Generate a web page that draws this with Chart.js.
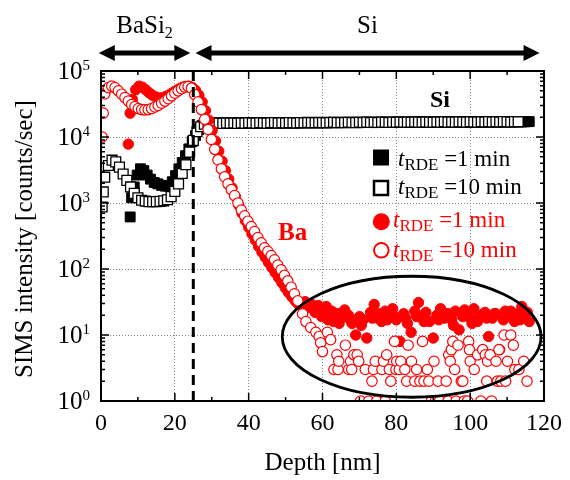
<!DOCTYPE html>
<html>
<head>
<meta charset="utf-8">
<script src="https://cdn.jsdelivr.net/npm/chart.js@4.4.1/dist/chart.umd.min.js"></script>
<style>
  html, body { margin: 0; padding: 0; background: #fff; }
  #wrap { width: 570px; height: 480px; position: relative; }
</style>
</head>
<body>
<div id="wrap"><canvas id="simsChart"></canvas></div>
<script>
// axis ticks
const xTicks = [0, 20, 40, 60, 80, 100, 120];
const yExponents = [0, 1, 2, 3, 4, 5];
const interfaceDepth = 25;

// Si signal, t_RDE = 1 min (filled squares)
const si1Depth = [7.9, 8.3, 9.0, 9.8, 10.7, 11.6, 12.5, 13.4, 14.4, 15.4, 16.4, 17.4, 18.4, 19.3, 20.2,
  21.1, 22.0, 22.9, 23.8, 24.7, 25.6, 26.5, 27.4, 28.3,
  29, 30, 31, 32, 33, 34, 35, 36, 37, 38, 39, 40, 41, 42, 43, 44, 45, 46, 47, 48, 49, 50,
  51, 52, 53, 54, 55, 56, 57, 58, 59, 60, 61, 62, 63, 64, 65, 66, 67, 68, 69, 70,
  71, 72, 73, 74, 75, 76, 77, 78, 79, 80, 81, 82, 83, 84, 85, 86, 87, 88, 89, 90,
  91, 92, 93, 94, 95, 96, 97, 98, 99, 100, 101, 102, 103, 104, 105, 106, 107, 108, 109, 110,
  111, 112, 113, 114, 115, 116];
const si1Counts = [615, 1200, 1750, 2650, 3300, 3100, 2650, 2300, 2050, 1950, 1850, 1800, 1800, 2100, 2600,
  3300, 4100, 5200, 6600, 8500, 10500, 13000, 15000, 16000,
  15800, 16100, 16200, 16300, 16200, 16300, 16200, 16400, 16300, 16200, 16400, 16300, 16200, 16400, 16300, 16500, 16300, 16400, 16500, 16300, 16400, 16500,
  16400, 16300, 16500, 16400, 16600, 16400, 16500, 16600, 16400, 16500, 16600, 16500, 16400, 16600, 16500, 16700, 16500, 16600, 16700, 16500,
  16600, 16700, 16600, 16500, 16700, 16600, 16800, 16600, 16700, 16800, 16600, 16700, 16800, 16700, 16600, 16800, 16700, 16900, 16700, 16800,
  16900, 16700, 16800, 16900, 16800, 16700, 16900, 16800, 17000, 16800, 16900, 17000, 16800, 16900, 17000, 16900, 16800, 17000, 16900, 17100,
  16900, 17000, 17100, 16900, 17000, 17100];

// Si signal, t_RDE = 10 min (open squares)
const si10Depth = [0.3, 0.6, 1.0, 2.0, 3.0, 4.0, 5.0, 6.0, 7.0, 8.0, 9.0, 10.0, 11.0, 12.0, 13.0, 14.0, 15.0,
  16.0, 17.0, 18.0, 19.0, 20.0, 21.0, 22.0, 23.0, 24.0, 25.0, 26.0, 27.0, 28.0,
  29, 30, 31, 32, 33, 34, 35, 36, 37, 38, 39, 40, 41, 42, 43, 44, 45, 46, 47, 48, 49, 50,
  51, 52, 53, 54, 55, 56, 57, 58, 59, 60, 61, 62, 63, 64, 65, 66, 67, 68, 69, 70,
  71, 72, 73, 74, 75, 76, 77, 78, 79, 80, 81, 82, 83, 84, 85, 86, 87, 88, 89, 90,
  91, 92, 93, 94, 95, 96, 97, 98, 99, 100, 101, 102, 103, 104, 105, 106, 107, 108, 109, 110,
  111, 112, 113];
const si10Counts = [870, 1470, 2460, 3700, 4450, 4200, 3500, 2750, 2200, 1750, 1400, 1200, 1100, 1070, 1050, 1050, 1050,
  1060, 1080, 1120, 1250, 1500, 1950, 2800, 3800, 5900, 8900, 12000, 14300, 15600,
  16000, 16100, 16300, 16200, 16100, 16300, 16200, 16300, 16100, 16300, 16200, 16400, 16300, 16200, 16400, 16300, 16200, 16400, 16500, 16300, 16400, 16300,
  16500, 16400, 16300, 16500, 16400, 16600, 16500, 16400, 16600, 16500, 16400, 16600, 16700, 16500, 16600, 16500, 16700, 16600, 16500, 16700,
  16600, 16800, 16600, 16700, 16600, 16800, 16700, 16600, 16800, 16700, 16900, 16700, 16800, 16700, 16900, 16800, 16700, 16900, 16800, 16700,
  16900, 16800, 17000, 16800, 16900, 16800, 17000, 16900, 16800, 17000, 16900, 16800, 17000, 16900, 17100, 16900, 17000, 16900, 17100, 17000,
  16900, 17100, 17000];

// Ba signal, t_RDE = 1 min (filled circles)
const ba1Depth = [7.4, 7.9, 8.5, 9.4, 10.3, 11.2, 12.1, 13.0, 13.9, 14.8, 15.7, 16.6, 17.5, 18.4, 19.3, 20.2,
  21.1, 22.0, 22.9, 23.8, 24.7, 25.6, 26.5, 27.4, 28.3, 29.2, 30.1, 31.0, 31.9, 32.8, 33.7, 34.6, 35.5,
  36.4, 37.3, 38.2, 39.1, 40.0, 40.9, 41.8, 42.7, 43.6, 44.5, 45.4, 46.3, 47.2, 48.1, 49.0, 49.9, 50.8,
  51.7, 52.6, 53.5, 54.4, 55.3, 56.2, 57.1, 58.0, 58.9, 59.8, 60.7,
  61, 61.5, 62, 62.5, 63, 63.5, 64, 64.5, 65, 65.5, 66, 67, 67.5, 68, 69, 70, 70.5, 71, 72, 73, 73.5, 74, 75, 75.5,
  76, 77, 77.5, 78, 79, 79.5, 80, 81, 82, 82.5, 83, 84, 85, 85.5, 86, 87, 87.5, 88, 89, 90, 91, 91.5,
  92, 93, 93.5, 94, 95, 95.5, 96, 97, 98, 98.5, 99, 100, 100.5, 101, 102, 102.5, 103, 104, 104.5, 105,
  106, 106.5, 107, 108, 109, 109.5, 110, 111, 111.5, 112, 113, 113.5, 114, 115, 115.5, 116];
const ba1Counts = [7800, 23000, 37000, 52000, 59000, 57000, 52000, 47000, 43000, 40500, 39000, 39500, 41000, 43500, 46500, 50000,
  53500, 56500, 58500, 59000, 56500, 51000, 43000, 34000, 25000, 18000, 12500, 8700, 6100, 4300, 3100, 2300, 1700,
  1250, 930, 700, 540, 430, 340, 275, 220, 180, 150, 125, 105, 88, 74, 62, 52, 44,
  38, 33, 29, 27, 32, 26, 29, 22, 28, 19, 24,
  27, 17, 20, 23, 16, 19, 21, 15, 18, 22, 24, 20, 17, 15, 10, 19, 14, 17, 9, 22, 18, 29, 18, 21,
  16, 23, 17, 20, 25, 19, 17, 8, 21, 18, 15, 11, 23, 19, 31, 19, 16, 22, 16, 9, 20, 17,
  25, 18, 21, 21, 17, 14, 23, 12, 19, 24, 22, 18, 15, 25, 16, 19, 20, 22, 18, 9.5,
  18, 21, 21, 6, 17, 23, 19, 23, 18, 16, 21, 17, 27, 18, 22, 16];

// Ba signal, t_RDE = 10 min (open circles); zero counts are not shown
const ba10Depth = [0.3, 0.6, 1.0, 2.0, 2.9, 3.8, 4.7, 5.6, 6.5, 7.4, 8.3, 9.2, 10.1, 11.0, 11.9, 12.8, 13.7,
  14.6, 15.5, 16.4, 17.3, 18.2, 19.1, 20.0, 20.9, 21.8, 22.7, 23.6, 24.5, 25.4, 26.3, 27.2, 28.1, 29.0,
  29.9, 30.8, 31.7, 32.6, 33.5, 34.4, 35.3, 36.2, 37.1, 38.0, 38.9, 39.8, 40.7, 41.6, 42.5, 43.4, 44.3,
  45.2, 46.1, 47.0, 47.9, 48.8, 49.7, 50.6, 51.5, 52.4, 53.3, 54.6, 55.5, 56.8, 58.2, 59.1, 59.5, 60.0,
  61.3, 62.2, 63.1, 63.9, 64.2, 64.4, 66.2, 67.1, 67.6, 67.9, 68.5, 69.4, 69.8, 70.3, 71.6, 72.5, 73.4,
  73.8, 74.3, 74.7, 76.1, 76.5, 77.0, 77.4, 78.1, 78.5, 79.5, 79.9, 80.1, 80.8, 81.2, 82.3, 82.8, 83.2,
  84.1, 85.0, 85.5, 86.4, 87.1, 87.5, 88.4, 88.8, 89.5, 90.2, 90.6, 91.3, 91.7, 93.5, 94.0, 94.2, 94.6,
  94.9, 95.3, 95.8, 96.2, 96.7, 97.6, 98.0, 98.4, 99.3, 99.6, 99.8, 100.0, 101.1, 102.0, 102.9, 103.4,
  104.1, 104.5, 104.7, 105.4, 105.8, 107.0, 107.4, 107.8, 108.3, 109.2, 109.6, 110.1, 111.0, 111.7, 112.1,
  113.2, 114.5, 115.4];
const ba10Counts = [10000, 23000, 45000, 56000, 59000, 56000, 50000, 44500, 39500, 35000, 31000, 29000, 27000, 26000, 25800, 26000, 27000,
  28500, 30000, 32500, 35000, 38000, 42000, 46000, 50000, 54000, 57000, 58000, 55000, 44000, 34000, 26000, 18500, 13000,
  9200, 6500, 4500, 3300, 2500, 1950, 1600, 1300, 1000, 780, 640, 530, 440, 370, 300, 250, 210,
  185, 160, 138, 115, 97, 80, 66, 53, 42, 33, 21, 16, 13, 11, 9.5, 7.6, 5.6,
  11, 8.5, 3, 5, 3, 4, 7, 3, 4, 3, 5, 5, 4, 1, 3, 1, 2,
  3, 4, 1, 3, 4, 1, 5, 3, 2, 8, 3, 4, 3, 4, 3, 2, 7,
  4, 2, 3, 2, 8, 2, 3, 2, 1, 4, 1, 2, 1, 2, 1, 5, 4,
  6, 8, 3, 1, 7, 2, 2, 1, 1, 8, 6, 4, 3, 5, 1, 6,
  5, 2, 4, 5, 1, 4, 2, 6, 2, 10, 2, 4, 10, 7, 3,
  3, 4, 2];

// legend text
const legendTimes = ['1 min', '10 min', '1 min', '10 min'];

const serif = "'Liberation Serif', 'Times New Roman', serif";
const RED = '#ff0000';

const toPoints = (d, v) => d.map((x, i) => ({ x: x, y: v[i] }));

function drawArrow(ctx, x1, x2, yc) {
  const head = 16, half = 8;
  ctx.lineWidth = 5;
  ctx.beginPath();
  ctx.moveTo(x1 + head - 2, yc);
  ctx.lineTo(x2 - head + 2, yc);
  ctx.stroke();
  ctx.beginPath();
  ctx.moveTo(x1, yc); ctx.lineTo(x1 + head, yc - half); ctx.lineTo(x1 + head, yc + half); ctx.closePath();
  ctx.moveTo(x2, yc); ctx.lineTo(x2 - head, yc - half); ctx.lineTo(x2 - head, yc + half); ctx.closePath();
  ctx.fill();
}

function rdeLabel(ctx, x, yb, time, color) {
  ctx.fillStyle = color;
  ctx.textAlign = 'left';
  ctx.textBaseline = 'alphabetic';
  ctx.font = 'italic 23px ' + serif;
  ctx.fillText('t', x, yb);
  let cx = x + ctx.measureText('t').width;
  ctx.font = '17px ' + serif;
  ctx.fillText('RDE', cx, yb + 4);
  cx += ctx.measureText('RDE').width;
  ctx.font = '23px ' + serif;
  ctx.fillText(' =' + time, cx, yb);
}

const decor = {
  id: 'decor',
  afterDatasetsDraw(chart) {
    const { ctx, chartArea: a, scales: { x, y } } = chart;
    ctx.save();

    // BaSi2 / Si interface
    const xi = x.getPixelForValue(interfaceDepth);
    ctx.strokeStyle = '#000';
    ctx.lineWidth = 3;
    ctx.setLineDash([10, 6]);
    ctx.beginPath();
    ctx.moveTo(xi, a.top);
    ctx.lineTo(xi, a.bottom);
    ctx.stroke();
    ctx.setLineDash([]);

    // ellipse round the noise floor
    const eL = x.getPixelForValue(49.1), eR = x.getPixelForValue(119.2);
    const eT = y.getPixelForValue(77.6), eB = y.getPixelForValue(1.14);
    ctx.lineWidth = 2.8;
    ctx.beginPath();
    ctx.ellipse((eL + eR) / 2, (eT + eB) / 2, (eR - eL) / 2, (eB - eT) / 2, 0, 0, Math.PI * 2);
    ctx.stroke();

    // frame
    ctx.lineWidth = 2;
    ctx.strokeRect(a.left, a.top, a.right - a.left, a.bottom - a.top);

    // inward ticks
    ctx.lineWidth = 1.5;
    ctx.beginPath();
    for (let d = 0; d <= 120; d += 10) {
      const px = x.getPixelForValue(d);
      const len = d % 20 === 0 ? 8 : 4;
      ctx.moveTo(px, a.bottom); ctx.lineTo(px, a.bottom - len);
      ctx.moveTo(px, a.top); ctx.lineTo(px, a.top + len);
    }
    for (let e = 0; e <= 5; e++) {
      for (let m = 1; m <= 9; m++) {
        if (e === 5 && m > 1) break;
        const py = y.getPixelForValue(m * Math.pow(10, e));
        const len = m === 1 ? 8 : 4;
        ctx.moveTo(a.left, py); ctx.lineTo(a.left + len, py);
        ctx.moveTo(a.right, py); ctx.lineTo(a.right - len, py);
      }
    }
    ctx.stroke();

    // y tick labels 10^n
    ctx.fillStyle = '#000';
    ctx.textAlign = 'right';
    ctx.textBaseline = 'alphabetic';
    yExponents.forEach(e => {
      const py = y.getPixelForValue(Math.pow(10, e));
      ctx.font = '15px ' + serif;
      const ew = ctx.measureText(String(e)).width;
      ctx.fillText(String(e), a.left - 11, py - 1);
      ctx.font = '25px ' + serif;
      ctx.fillText('10', a.left - 11 - ew, py + 8);
    });

    // axis titles
    ctx.textAlign = 'center';
    ctx.font = '25px ' + serif;
    ctx.fillText('Depth [nm]', (a.left + a.right) / 2, 470);
    ctx.save();
    ctx.translate(32, (a.top + a.bottom) / 2 + 3);
    ctx.rotate(-Math.PI / 2);
    ctx.fillText('SIMS intensity [counts/sec]', 0, 0);
    ctx.restore();

    // layer arrows
    const ay = 53;
    ctx.fillStyle = '#000';
    ctx.strokeStyle = '#000';
    drawArrow(ctx, x.getPixelForValue(-0.6), x.getPixelForValue(24.2), ay);
    drawArrow(ctx, x.getPixelForValue(25.6), x.getPixelForValue(118.8), ay);
    ctx.textAlign = 'left';
    ctx.font = '25px ' + serif;
    const bw = ctx.measureText('BaSi').width;
    ctx.font = '16px ' + serif;
    const sw = ctx.measureText('2').width;
    const bx = (x.getPixelForValue(-0.6) + x.getPixelForValue(24.2)) / 2 - (bw + sw) / 2;
    ctx.font = '25px ' + serif;
    ctx.fillText('BaSi', bx, 33);
    ctx.font = '16px ' + serif;
    ctx.fillText('2', bx + bw, 38);
    ctx.textAlign = 'center';
    ctx.font = '25px ' + serif;
    ctx.fillText('Si', (x.getPixelForValue(25.6) + x.getPixelForValue(118.8)) / 2, 33);

    // element labels
    ctx.textAlign = 'left';
    ctx.font = 'bold 24px ' + serif;
    ctx.fillStyle = '#000';
    ctx.fillText('Si', 430, 107);
    ctx.fillStyle = RED;
    ctx.font = 'bold 25px ' + serif;
    ctx.fillText('Ba', 278, 240);

    // legend
    ctx.fillStyle = '#000';
    ctx.fillRect(373, 149.5, 16, 16);
    ctx.lineWidth = 2.5;
    ctx.strokeStyle = '#000';
    ctx.fillStyle = '#fff';
    ctx.fillRect(374, 181, 14, 14);
    ctx.strokeRect(374, 181, 14, 14);
    ctx.fillStyle = RED;
    ctx.beginPath(); ctx.arc(381.3, 221.7, 8.5, 0, Math.PI * 2); ctx.fill();
    ctx.strokeStyle = RED; ctx.lineWidth = 2;
    ctx.beginPath(); ctx.arc(381.3, 250.3, 7.3, 0, Math.PI * 2); ctx.stroke();
    rdeLabel(ctx, 398, 166, legendTimes[0], '#000');
    rdeLabel(ctx, 398, 194, legendTimes[1], '#000');
    rdeLabel(ctx, 393, 227, legendTimes[2], RED);
    rdeLabel(ctx, 393, 257, legendTimes[3], RED);

    ctx.restore();
  }
};

new Chart(document.getElementById('simsChart'), {
  type: 'scatter',
  data: {
    datasets: [
      {
        label: 'Ba, tRDE = 10 min',
        data: toPoints(ba10Depth, ba10Counts),
        pointStyle: 'circle',
        pointRadius: 5.2,
        pointBorderWidth: 1.2,
        pointBorderColor: RED,
        pointBackgroundColor: '#fff'
      },
      {
        label: 'Ba, tRDE = 1 min',
        data: toPoints(ba1Depth, ba1Counts),
        pointStyle: 'circle',
        pointRadius: 5.2,
        pointBorderWidth: 1,
        pointBorderColor: RED,
        pointBackgroundColor: RED
      },
      {
        label: 'Si, tRDE = 10 min',
        data: toPoints(si10Depth, si10Counts),
        pointStyle: 'rect',
        pointRadius: 7,
        pointBorderWidth: 1.3,
        pointBorderColor: '#000',
        pointBackgroundColor: '#fff'
      },
      {
        label: 'Si, tRDE = 1 min',
        data: toPoints(si1Depth, si1Counts),
        pointStyle: 'rect',
        pointRadius: 7,
        pointBorderWidth: 1,
        pointBorderColor: '#000',
        pointBackgroundColor: '#000'
      }
    ]
  },
  options: {
    responsive: true,
    maintainAspectRatio: false,
    animation: false,
    devicePixelRatio: 1,
    layout: { padding: { top: 71, right: 24, left: 0, bottom: 0 } },
    plugins: {
      legend: { display: false },
      tooltip: { enabled: false }
    },
    scales: {
      x: {
        type: 'linear',
        min: 0,
        max: 120,
        afterBuildTicks: s => { s.ticks = xTicks.map(v => ({ value: v })); },
        afterFit: s => { s.height = 79; },
        ticks: {
          color: '#000',
          font: { family: serif, size: 24 },
          padding: 8,
          maxRotation: 0
        },
        grid: { color: '#8a8a8a', lineWidth: 1, drawTicks: false },
        border: { display: false, dash: [1, 2] }
      },
      y: {
        type: 'logarithmic',
        min: 1,
        max: 100000,
        afterBuildTicks: s => { s.ticks = yExponents.map(e => ({ value: Math.pow(10, e) })); },
        afterFit: s => { s.width = 101; },
        ticks: { display: false },
        grid: { color: '#8a8a8a', lineWidth: 1, drawTicks: false },
        border: { display: false, dash: [1, 2] }
      }
    }
  },
  plugins: [decor]
});
</script>
</body>
</html>
